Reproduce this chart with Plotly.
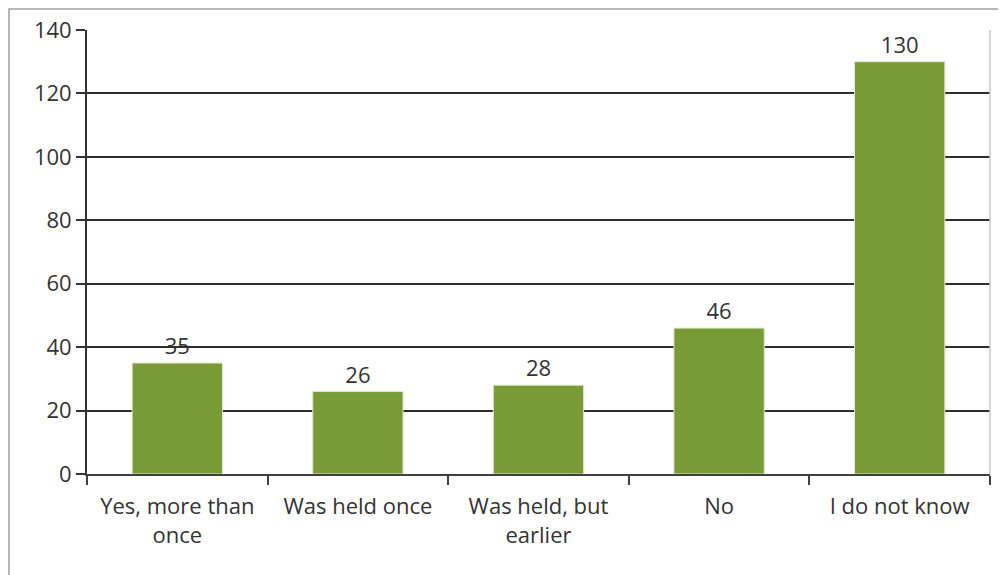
import plotly.graph_objects as go

categories = ["Yes, more than<br>once", "Was held once", "Was held, but<br>earlier", "No", "I do not know"]
values = [35, 26, 28, 46, 130]
y_ticks = [0, 20, 40, 60, 80, 100, 120, 140]

OFF = 8  # page body margin
W, H = 1006 - OFF, 575 - OFF
L, R, T, B = 87 - OFF, 16, 30 - OFF, 101
pw, ph = W - L - R, H - T - B

font = dict(family="Open Sans, Noto Sans, sans-serif", size=22, color="#333333")

fig = go.Figure(go.Bar(
    x=categories, y=values,
    text=[str(v) for v in values], textposition="outside",
    textfont=dict(family=font["family"], size=22, color="#333333"),
    cliponaxis=False,
    marker=dict(color="#789a37", line=dict(color="#dfe8cc", width=1)),
))

fig.update_layout(
    width=W, height=H, autosize=False,
    margin=dict(l=L, r=R, t=T, b=B, pad=0),
    paper_bgcolor="white", plot_bgcolor="white",
    bargap=0.5, showlegend=False, font=font,
    shapes=[
        dict(type="rect", xref="paper", yref="paper",
             x0=(1 - L) / pw, x1=(W + 10 - L) / pw,
             y0=-(H + 10 - T - ph) / ph, y1=1 + (T - 1) / ph,
             line=dict(color="#a0a0a0", width=1.5), layer="below"),
        dict(type="line", xref="paper", yref="paper", x0=1, x1=1, y0=0, y1=1,
             line=dict(color="#c8c8c8", width=1.5)),
    ],
)
fig.update_xaxes(
    automargin=False,
    showline=True, linecolor="#404040", linewidth=1.5,
    ticks="outside", tickson="boundaries", ticklen=9, tickwidth=1.5, tickcolor="#404040",
    ticklabelstandoff=12,
    showgrid=False, tickfont=font,
)
fig.update_yaxes(
    automargin=False,
    range=[0, 140], tickvals=y_ticks,
    showline=True, linecolor="#333333", linewidth=1.8,
    ticks="outside", ticklen=9, tickwidth=1.8, tickcolor="#333333",
    showgrid=True, gridcolor="#2e2e2e", gridwidth=1.6,
    zeroline=False, tickfont=font,
)
fig.write_html("out.html")
